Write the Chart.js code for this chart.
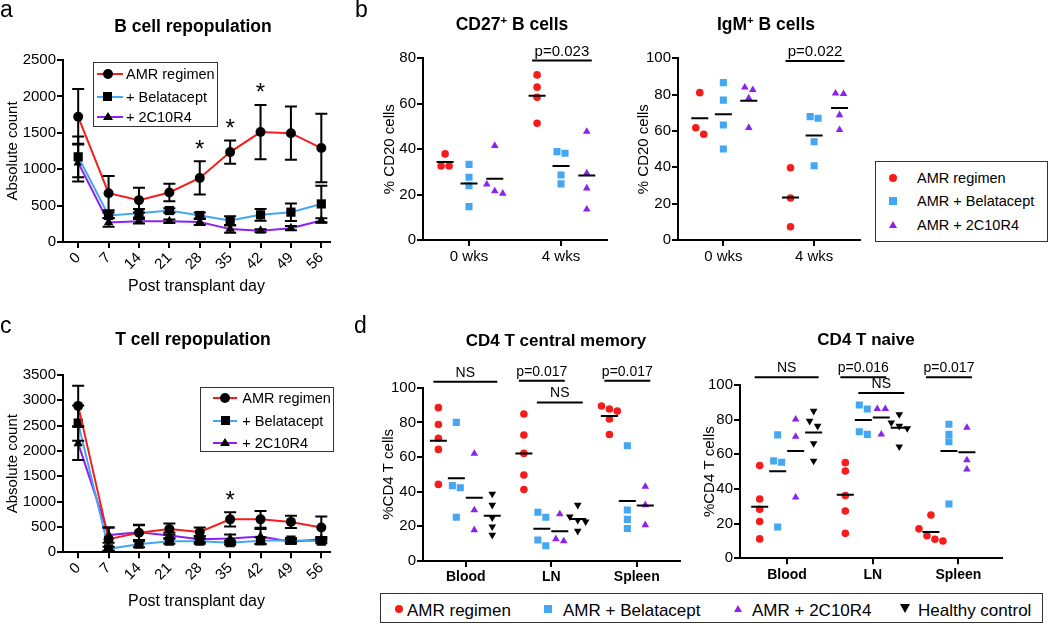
<!DOCTYPE html>
<html>
<head>
<meta charset="utf-8">
<title>B and T cell repopulation</title>
<script src="https://cdn.jsdelivr.net/npm/chart.js@4.4.1/dist/chart.umd.min.js"></script>
<style>
  body { margin: 0; background: #fff; }
  #page { position: relative; width: 1050px; height: 626px; overflow: hidden; font-family: "Liberation Sans", Arial, sans-serif; color: #000; }
  #page canvas { position: absolute; }
  .txt { position: absolute; line-height: 1; white-space: nowrap; }
  .txt sup { font-size: 0.65em; vertical-align: 0; position: relative; top: -0.5em; line-height: 0; }
  .box { position: absolute; border: 1.5px solid #333; box-sizing: border-box; }
  .mk { position: absolute; }
  .ln { position: absolute; height: 2px; }
</style>
</head>
<body>
<div id="page">
  <canvas id="chartA" width="350" height="310" style="left:0;top:0"></canvas>
  <canvas id="chartC" width="350" height="311" style="left:0;top:315px"></canvas>
  <canvas id="chartCd27" width="262" height="275" style="left:360px;top:0"></canvas>
  <canvas id="chartIgm" width="255" height="275" style="left:615px;top:0"></canvas>
  <canvas id="chartCm" width="330" height="275" style="left:360px;top:315px"></canvas>
  <canvas id="chartNaive" width="340" height="275" style="left:677px;top:315px"></canvas>
</div>
<script>
// ---- data ----
const DAYS = [0, 7, 14, 21, 28, 35, 42, 49, 56];
const LINE_LABELS = ['AMR regimen', '+ Belatacept', '+ 2C10R4'];

// B cell repopulation (absolute count, mean and error)
const B_AMR = [1720, 670, 575, 680, 880, 1235, 1510, 1495, 1290];
const B_AMR_ERR = [380, 235, 170, 120, 228, 160, 372, 365, 470];
const B_BELA = [1170, 365, 395, 432, 364, 295, 373, 410, 523];
const B_BELA_ERR = [280, 40, 60, 30, 40, 60, 80, 120, 250];
const B_TWO = [1090, 268, 285, 285, 275, 177, 155, 190, 295];
const B_TWO_ERR = [260, 60, 30, 25, 40, 50, 20, 30, 30];
const B_STARS = [28, 35, 42];

// T cell repopulation
const T_AMR = [2890, 260, 385, 460, 400, 650, 650, 600, 490];
const T_AMR_ERR = [400, 230, 150, 110, 90, 140, 165, 120, 215];
const T_BELA = [2550, 70, 160, 220, 220, 190, 230, 240, 220];
const T_BELA_ERR = [350, 40, 60, 50, 50, 40, 60, 40, 40];
const T_TWO = [2150, 340, 395, 330, 260, 270, 310, 210, 260];
const T_TWO_ERR = [330, 150, 150, 60, 60, 80, 150, 40, 40];
const T_STARS = [35];

// b: % CD20 cells per animal
const WEEKS = ['0 wks', '4 wks'];
const DOT_LABELS = ['AMR regimen', 'AMR + Belatacept', 'AMR + 2C10R4', 'Healthy control'];
const CD27_AMR = [[37.9, 32.6, 32.6], [72.7, 67.3, 62.8, 51.4]];
const CD27_BELA = [[33.3, 27.6, 23.9, 14.7], [38.9, 38.2, 28.6, 24.7]];
const CD27_TWO = [[41.5, 24.5, 21.5, 20.5], [47.7, 29.4, 22.8, 13.5]];
const IGM_AMR = [[81.1, 61.8, 58.2], [39.8, 23.1, 7.3]];
const IGM_BELA = [[86.6, 77, 63.3, 50.1], [67.9, 67, 54.1, 40.9]];
const IGM_TWO = [[84, 82.6, 78, 61.8], [80.7, 80.4, 68.8, 60.6]];

// d: %CD4 T cells per tissue
const TISSUES = ['Blood', 'LN', 'Spleen'];
const CM_AMR = [[88.5, 78.8, 70.8, 64.4, 44.2], [84.8, 72.7, 62.1, 49.6, 41.3], [89.4, 87.7, 86.5, 81.9, 73]];
const CM_BELA = [[80, 43.5, 42.3, 25.2], [28.1, 25.2, 12.1, 8.8], [66.5, 29.4, 24, 18.8]];
const CM_TWO = [[62, 29.4, 17.9], [27.1, 12.7, 11.5], [42.9, 32.3, 20.8]];
const CM_HC = [[38.7, 32.3, 25, 19.8, 15], [32.3, 25.6, 23.6, 22.7, 17.3], []];
const NV_AMR = [[53.5, 34.2, 28.3, 21.2, 11.2], [55.2, 50.4, 36.2, 27.3, 14.4], [25, 17, 13, 11, 10]];
const NV_BELA = [[71.2, 56.2, 55.4, 18.1], [88.5, 86.2, 73, 71.5], [77.3, 71.5, 67.3, 31.3]];
const NV_TWO = [[80.2, 70.2, 35.2], [86.2, 86.2, 71.5], [75.4, 56.7, 51.3]];
const NV_HC = [[85, 79.2, 76.3, 66.3, 56.2], [83, 78.3, 76.3, 75, 64.4], []];

// significance bars: category, first and last group, height, label
const CD27_SIG = [{ cat: 1, from: 0, to: 2, y: 79, text: 'p=0.023' }];
const IGM_SIG = [{ cat: 1, from: 0, to: 2, y: 98.5, text: 'p=0.022' }];
const CM_SIG = [
  { cat: 0, from: 0, to: 3, y: 103.5, text: 'NS' },
  { cat: 1, from: 0, to: 2, y: 104, text: 'p=0.017' },
  { cat: 1, from: 1, to: 3, y: 91.5, text: 'NS' },
  { cat: 2, from: 0, to: 2, y: 104, text: 'p=0.017' },
];
const NV_SIG = [
  { cat: 0, from: 0, to: 3, y: 104.4, text: 'NS' },
  { cat: 1, from: 0, to: 2, y: 104.4, text: 'p=0.016' },
  { cat: 1, from: 1, to: 3, y: 95.4, text: 'NS' },
  { cat: 2, from: 0, to: 2, y: 104.4, text: 'p=0.017' },
];

// ---- styles ----
const FONT = '"Liberation Sans", Arial, sans-serif';
const COLORS = ['#f51c1c', '#45a6f2', '#8b22ee', '#000000'];
const SHAPES = ['circle', 'rect', 'triangle', 'triangle'];
const ROTATE = [0, 0, 0, 180];
Chart.defaults.font.family = FONT;
Chart.defaults.color = '#000';

const AXIS_GRID = { display: true, drawOnChartArea: false, drawTicks: true, tickLength: 6, color: '#000', lineWidth: 2 };
const AXIS_BORDER = { display: true, color: '#000', width: 2 };

/**
 * Error bars and significance stars for the repopulation charts
 */
function errorBarPlugin(stars) {
  return {
    id: 'errorBars',
    afterDatasetsDraw(chart) {
      const { ctx, scales: { x, y } } = chart;
      ctx.save();
      ctx.strokeStyle = '#000';
      ctx.lineWidth = 2;
      chart.data.datasets.forEach((ds) => {
        ds.err.forEach((e, i) => {
          const px = x.getPixelForValue(ds.data[i].x);
          const top = y.getPixelForValue(ds.data[i].y + e);
          const bot = y.getPixelForValue(Math.max(ds.data[i].y - e, 0));
          ctx.beginPath();
          ctx.moveTo(px, top);
          ctx.lineTo(px, bot);
          ctx.moveTo(px - 6, top);
          ctx.lineTo(px + 6, top);
          ctx.moveTo(px - 6, bot);
          ctx.lineTo(px + 6, bot);
          ctx.stroke();
        });
      });
      // stars sit above the AMR error bar
      const amr = chart.data.datasets[0];
      ctx.fillStyle = '#000';
      ctx.font = '24px ' + FONT;
      ctx.textAlign = 'center';
      ctx.textBaseline = 'alphabetic';
      stars.forEach((d) => {
        const i = DAYS.indexOf(d);
        const top = y.getPixelForValue(amr.data[i].y + amr.err[i]);
        ctx.fillText('*', x.getPixelForValue(d), top - 18 + 13.5);
      });
      ctx.restore();
    },
  };
}

/**
 * Horizontal bars with a p value above them
 */
function sigPlugin(bars, offsets, size) {
  return {
    id: 'sigBars',
    afterDraw(chart) {
      const { ctx, scales: { x, y } } = chart;
      ctx.save();
      ctx.strokeStyle = '#000';
      ctx.fillStyle = '#000';
      ctx.lineWidth = 2;
      ctx.font = size + 'px ' + FONT;
      ctx.textAlign = 'center';
      ctx.textBaseline = 'alphabetic';
      bars.forEach((b) => {
        const x1 = x.getPixelForValue(b.cat + offsets[b.from]) - 5;
        const x2 = x.getPixelForValue(b.cat + offsets[b.to]) + 5;
        const py = y.getPixelForValue(b.y);
        ctx.beginPath();
        ctx.moveTo(x1, py);
        ctx.lineTo(x2, py);
        ctx.stroke();
        ctx.fillText(b.text, (x1 + x2) / 2, py - 5);
      });
      ctx.restore();
    },
  };
}

function lineChart(id, vals, errs, yMax, stars, area) {
  const canvas = document.getElementById(id);
  const w = canvas.width;
  const h = canvas.height;
  const datasets = vals.map((v, s) => ({
    label: LINE_LABELS[s],
    data: DAYS.map((d, i) => ({ x: d, y: v[i] })),
    err: errs[s],
    borderColor: COLORS[s],
    borderWidth: 2,
    pointStyle: SHAPES[s],
    pointRadius: [5, 6.5, 5.5][s],
    pointBackgroundColor: '#000',
    pointBorderColor: '#000',
    pointBorderWidth: 0,
    tension: 0,
  }));
  return new Chart(canvas, {
    type: 'line',
    data: { datasets },
    options: {
      responsive: false,
      animation: false,
      events: [],
      layout: { padding: { left: 0, top: area.top, right: w - area.right, bottom: 0 } },
      plugins: { legend: { display: false }, tooltip: { enabled: false } },
      scales: {
        x: {
          type: 'linear',
          min: -3.5,
          max: 58,
          afterBuildTicks: (s) => { s.ticks = DAYS.map((d) => ({ value: d })); },
          afterCalculateLabelRotation: (s) => { s.labelRotation = 45; },
          afterFit: (s) => { s.height = h - area.bottom; },
          ticks: { minRotation: 45, maxRotation: 90, autoSkip: false, font: { size: 15 }, padding: 1 },
          grid: AXIS_GRID,
          border: AXIS_BORDER,
          title: { display: true, text: 'Post transplant day', font: { size: 16 }, padding: { top: 0, bottom: area.titleGap } },
        },
        y: {
          min: 0,
          max: yMax,
          afterFit: (s) => { s.width = area.left; },
          ticks: { stepSize: 500, font: { size: 15 }, padding: 1, callback: (v) => String(v) },
          grid: AXIS_GRID,
          border: AXIS_BORDER,
          title: { display: true, text: 'Absolute count', font: { size: 15 }, padding: { top: 4, bottom: 0 } },
        },
      },
    },
    plugins: [errorBarPlugin(stars)],
  });
}

/**
 * Spreads animals with nearly equal values side by side, as in a scatter dot plot
 */
function swarm(values, center, yPx, xPx) {
  const sorted = values.slice().sort((a, b) => b - a);
  const clusters = [];
  sorted.forEach((v) => {
    const last = clusters[clusters.length - 1];
    if (last && (last[last.length - 1] - v) * yPx < 7) last.push(v);
    else clusters.push([v]);
  });
  const pts = [];
  clusters.forEach((c) => {
    c.forEach((v, i) => pts.push({ x: center + ((i - (c.length - 1) / 2) * 8) / xPx, y: v }));
  });
  return pts;
}

function dotChart(id, cfg) {
  const canvas = document.getElementById(id);
  const w = canvas.width;
  const h = canvas.height;
  const area = cfg.area;
  const yPx = (area.bottom - area.top) / cfg.yMax;
  const xPx = (area.right - area.left) / (cfg.xMax - cfg.xMin);
  const means = [];
  const datasets = cfg.groups.map((g, s) => {
    const data = [];
    g.forEach((vals, c) => {
      if (!vals.length) return;
      data.push(...swarm(vals, c + cfg.offsets[s], yPx, xPx));
      means.push({ x: c + cfg.offsets[s], y: vals.reduce((a, b) => a + b, 0) / vals.length });
    });
    return {
      label: DOT_LABELS[s],
      data,
      pointStyle: SHAPES[s],
      pointRotation: ROTATE[s],
      pointRadius: [3.8, 5, 4.4, 4.4][s],
      pointBackgroundColor: COLORS[s],
      pointBorderWidth: 0,
    };
  });
  // mean lines go first so they are painted on top
  datasets.unshift({
    label: 'mean',
    data: means,
    pointStyle: 'line',
    pointRadius: 8.5,
    pointBorderColor: '#000',
    pointBorderWidth: 2,
  });
  return new Chart(canvas, {
    type: 'scatter',
    data: { datasets },
    options: {
      responsive: false,
      animation: false,
      events: [],
      layout: { padding: { left: 0, top: area.top, right: w - area.right, bottom: 0 } },
      plugins: { legend: { display: false }, tooltip: { enabled: false } },
      scales: {
        x: {
          type: 'linear',
          min: cfg.xMin,
          max: cfg.xMax,
          afterBuildTicks: (s) => { s.ticks = cfg.cats.map((c, i) => ({ value: i })); },
          afterFit: (s) => { s.height = h - area.bottom; },
          ticks: { callback: (v) => cfg.cats[v], font: cfg.catFont, padding: 2, maxRotation: 0 },
          grid: AXIS_GRID,
          border: AXIS_BORDER,
        },
        y: {
          min: 0,
          max: cfg.yMax,
          afterFit: (s) => { s.width = area.left; },
          ticks: { stepSize: 20, font: { size: 15 }, padding: 1 },
          grid: AXIS_GRID,
          border: AXIS_BORDER,
          title: { display: true, text: cfg.yTitle, font: { size: 15 }, padding: { top: cfg.yTitleX - 9, bottom: 0 } },
        },
      },
    },
    plugins: [sigPlugin(cfg.sig, cfg.offsets, cfg.sigSize)],
  });
}

// ---- charts ----
lineChart('chartA', [B_AMR, B_BELA, B_TWO], [B_AMR_ERR, B_BELA_ERR, B_TWO_ERR], 2500, B_STARS,
  { left: 63, top: 60, right: 330, bottom: 242, titleGap: 13.4 });
lineChart('chartC', [T_AMR, T_BELA, T_TWO], [T_AMR_ERR, T_BELA_ERR, T_TWO_ERR], 3500, T_STARS,
  { left: 63, top: 60, right: 330, bottom: 237.3, titleGap: 14.7 });

const B_OFFSETS = [-0.26, 0, 0.28];
const D_OFFSETS = [-0.32, -0.11, 0.1, 0.31];

dotChart('chartCd27', {
  cats: WEEKS, groups: [CD27_AMR, CD27_BELA, CD27_TWO], offsets: B_OFFSETS,
  yMax: 80, xMin: -0.5, xMax: 1.5, yTitle: '% CD20 cells', yTitleX: 30,
  catFont: { size: 15 }, sig: CD27_SIG, sigSize: 15,
  area: { left: 63, top: 58.3, right: 247, bottom: 240 },
});
dotChart('chartIgm', {
  cats: WEEKS, groups: [IGM_AMR, IGM_BELA, IGM_TWO], offsets: B_OFFSETS,
  yMax: 100, xMin: -0.5, xMax: 1.5, yTitle: '% CD20 cells', yTitleX: 28.5,
  catFont: { size: 15 }, sig: IGM_SIG, sigSize: 15,
  area: { left: 63, top: 58.3, right: 245, bottom: 240 },
});
dotChart('chartCm', {
  cats: TISSUES, groups: [CM_AMR, CM_BELA, CM_TWO, CM_HC], offsets: D_OFFSETS,
  yMax: 100, xMin: -0.5, xMax: 2.5, yTitle: '%CD4 T cells', yTitleX: 29,
  catFont: { size: 14, weight: 'bold' }, sig: CM_SIG, sigSize: 14,
  area: { left: 63, top: 72.7, right: 322, bottom: 246 },
});
dotChart('chartNaive', {
  cats: TISSUES, groups: [NV_AMR, NV_BELA, NV_TWO, NV_HC], offsets: D_OFFSETS,
  yMax: 100, xMin: -0.55, xMax: 2.51, yTitle: '%CD4 T cells', yTitleX: 32.5,
  catFont: { size: 14, weight: 'bold' }, sig: NV_SIG, sigSize: 14,
  area: { left: 63, top: 70, right: 325, bottom: 243.3 },
});

// ---- titles, panel letters and legends ----
const page = document.getElementById('page');

function addText(html, x, base, size, opts = {}) {
  const el = document.createElement('div');
  el.className = 'txt';
  el.innerHTML = html;
  el.style.fontSize = size + 'px';
  el.style.fontWeight = opts.bold ? 'bold' : 'normal';
  el.style.top = base - 0.8465 * size + 'px';
  el.style.left = x + 'px';
  if (opts.center) el.style.transform = 'translateX(-50%)';
  page.appendChild(el);
}

function addMarker(style, color, cx, cy, size) {
  const el = document.createElement('div');
  el.className = 'mk';
  if (style === 'circle' || style === 'rect') {
    el.style.width = size + 'px';
    el.style.height = size + 'px';
    el.style.left = cx - size / 2 + 'px';
    el.style.top = cy - size / 2 + 'px';
    el.style.background = color;
    if (style === 'circle') el.style.borderRadius = '50%';
  } else {
    const th = size * 0.87;
    el.style.width = '0';
    el.style.height = '0';
    el.style.borderLeft = size / 2 + 'px solid transparent';
    el.style.borderRight = size / 2 + 'px solid transparent';
    el.style[style === 'down' ? 'borderTop' : 'borderBottom'] = th + 'px solid ' + color;
    el.style.left = cx - size / 2 + 'px';
    el.style.top = cy - th / 2 + 'px';
  }
  page.appendChild(el);
}

function addBox(x, y, w, h) {
  const el = document.createElement('div');
  el.className = 'box';
  Object.assign(el.style, { left: x + 'px', top: y + 'px', width: w + 'px', height: h + 'px' });
  page.appendChild(el);
}

function addLine(x1, x2, y, color) {
  const el = document.createElement('div');
  el.className = 'ln';
  Object.assign(el.style, { left: x1 + 'px', top: y - 1 + 'px', width: x2 - x1 + 'px', background: color });
  page.appendChild(el);
}

// panel letters
addText('a', 0, 17, 23);
addText('b', 355, 17, 23);
addText('c', 0, 333.5, 23);
addText('d', 354, 333.5, 23);

// panel titles
addText('B cell repopulation', 193, 32.5, 17.5, { bold: true, center: true });
addText('T cell repopulation', 193, 346, 17.5, { bold: true, center: true });
addText('CD27<sup>+</sup> B cells', 512, 31, 17.5, { bold: true, center: true });
addText('IgM<sup>+</sup> B cells', 766, 31, 17.5, { bold: true, center: true });
addText('CD4 T central memory', 556, 346.7, 17, { bold: true, center: true });
addText('CD4 T naive', 866, 345.7, 17, { bold: true, center: true });

// legends of the line charts
const LINE_SHAPES = ['circle', 'rect', 'triangle'];
const LINE_MARK = [10, 9, 10];
function lineLegend(box, rows, lineX, markX, textX) {
  addBox(box[0], box[1], box[2], box[3]);
  LINE_LABELS.forEach((label, i) => {
    addLine(lineX[0], lineX[1], rows[i], COLORS[i]);
    addMarker(LINE_SHAPES[i], '#000', markX, rows[i], LINE_MARK[i]);
    addText(label, textX, rows[i] + 0.358 * 14.5, 14.5);
  });
}
lineLegend([93, 62, 125, 65], [74, 96.7, 116.7], [97, 123], 107.5, 126);
lineLegend([200, 387, 134, 65], [398.3, 420.7, 442.7], [213, 237], 225, 242.3);

// legend of panel b
addBox(875, 161, 173, 81);
const B_ROWS = [177.7, 201, 225];
const B_MARK = [['circle', 8], ['rect', 8], ['triangle', 9]];
DOT_LABELS.slice(0, 3).forEach((label, i) => {
  addMarker(B_MARK[i][0], COLORS[i], 893, B_ROWS[i], B_MARK[i][1]);
  addText(label, 917, B_ROWS[i] + 0.358 * 14.5, 14.5);
});

// legend of panel d
addBox(380, 593, 663, 30);
const D_MARK = [['circle', 8, 399, 407], ['rect', 8, 548.3, 563], ['triangle', 9, 738.3, 752], ['down', 11, 905, 918]];
DOT_LABELS.forEach((label, i) => {
  const [shape, size, mx, tx] = D_MARK[i];
  addMarker(shape, COLORS[i], mx, 609, size);
  addText(label, tx, 610 + 0.358 * 17, 17);
});
</script>
</body>
</html>
